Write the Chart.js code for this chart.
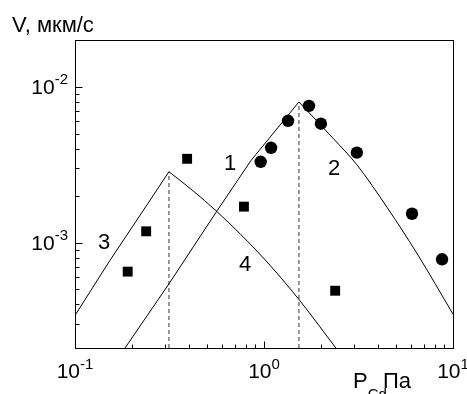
<!DOCTYPE html>
<html>
<head>
<meta charset="utf-8">
<script src="https://cdn.jsdelivr.net/npm/chart.js@4"></script>
<style>
    html, body { margin: 0; padding: 0; background: #fff; }
    #wrap { width: 467px; height: 394px; }
</style>
</head>
<body>
<div id="wrap"><canvas id="chart" width="467" height="394"></canvas></div>
<script>
// measured points (P_Cd in Pa, V in mkm/s)
const circleP = [0.96, 1.09, 1.34, 1.73, 2.0, 3.1, 6.07, 8.75];
const circleV = [0.0033, 0.00406, 0.00605, 0.00755, 0.0058, 0.00378, 0.00153, 0.00078];
const squareP = [0.19, 0.238, 0.392, 0.783, 2.38];
const squareV = [0.00065, 0.00118, 0.00345, 0.0017, 0.00049];

// model curves 1-4
const curve1P = [0.184, 0.318, 0.557, 0.853, 1.53];
const curve1V = [0.00021, 0.000555, 0.00156, 0.00336, 0.0080];
const curve2P = [1.53, 2.32, 3.1, 4.48, 6.45, 10];
const curve2V = [0.0080, 0.00467, 0.00316, 0.00168, 0.00085, 0.000347];
const curve3P = [0.1, 0.153, 0.243, 0.314];
const curve3V = [0.00034, 0.000767, 0.00178, 0.00285];
const curve4P = [0.314, 0.421, 0.557, 0.746, 1.076, 1.55, 2.4];
const curve4V = [0.00285, 0.00215, 0.0016, 0.00114, 0.000714, 0.000422, 0.00021];

// vertical dashed markers at the peaks
const dashP = [0.314, 1.53];
const dashTopV = [0.00285, 0.0080];

// axes
const xMin = 0.1, xMax = 10;
const yMin = 0.00021, yMax = 0.02;
const xMajor = [0.1, 1, 10];
const xExp = ["-1", "0", "1"];
const yMajor = [0.01, 0.001];
const yExp = ["-2", "-3"];

const curveLabels = [
    { text: "1", x: 230, y: 164 },
    { text: "2", x: 334, y: 169 },
    { text: "3", x: 104, y: 243 },
    { text: "4", x: 245, y: 265 }
];

const FONT = '"Liberation Sans", Arial, sans-serif';

function pts(xs, ys) {
    return xs.map((x, i) => ({ x: x, y: ys[i] }));
}

function lineSet(xs, ys, extra) {
    return Object.assign({
        type: "line",
        data: pts(xs, ys),
        borderColor: "#000",
        borderWidth: 1,
        pointRadius: 0,
        tension: 0,
        fill: false
    }, extra || {});
}

const datasets = [
    {
        type: "scatter",
        data: pts(circleP, circleV),
        pointStyle: "circle",
        pointRadius: 6.2,
        backgroundColor: "#000",
        borderColor: "#000",
        borderWidth: 0
    },
    {
        type: "scatter",
        data: pts(squareP, squareV),
        pointStyle: "rect",
        pointRadius: 7,
        backgroundColor: "#000",
        borderColor: "#000",
        borderWidth: 0
    },
    lineSet(curve1P, curve1V),
    lineSet(curve2P, curve2V, { cubicInterpolationMode: "monotone" }),
    lineSet(curve3P, curve3V),
    lineSet(curve4P, curve4V, { cubicInterpolationMode: "monotone" })
];

dashP.forEach((p, i) => {
    datasets.push(lineSet([p, p], [yMin, dashTopV[i]], {
        borderColor: "#7a7a7a",
        borderWidth: 1.5,
        borderDash: [4, 3]
    }));
});

// minor tick values for log axes
function minorTicks(lo, hi) {
    const out = [];
    for (let d = Math.floor(Math.log10(lo)); d <= Math.ceil(Math.log10(hi)); d++) {
        for (let m = 2; m <= 9; m++) {
            const v = m * Math.pow(10, d);
            if (v > lo && v < hi) out.push(v);
        }
    }
    return out;
}

function drawPower(ctx, exp, x, y, align, supRise) {
    ctx.font = "21px " + FONT;
    const w1 = ctx.measureText("10").width;
    ctx.font = "15px " + FONT;
    const w2 = ctx.measureText(exp).width;
    let left = align === "right" ? x - w1 - w2 : x - (w1 + w2) / 2;
    ctx.textAlign = "left";
    ctx.textBaseline = "alphabetic";
    ctx.font = "21px " + FONT;
    ctx.fillText("10", left, y);
    ctx.font = "15px " + FONT;
    ctx.fillText(exp, left + w1, y - supRise);
}

const framePlugin = {
    id: "frame",
    afterDraw(chart) {
        const ctx = chart.ctx;
        const a = chart.chartArea;
        const xs = chart.scales.x, ys = chart.scales.y;
        ctx.save();
        ctx.strokeStyle = "#000";
        ctx.lineWidth = 1;
        ctx.strokeRect(Math.round(a.left) + 0.5, Math.round(a.top) + 0.5,
            Math.round(a.right - a.left), Math.round(a.bottom - a.top));

        // inward ticks
        ctx.beginPath();
        const bottom = Math.round(a.bottom) + 0.5;
        const left = Math.round(a.left) + 0.5;
        xMajor.forEach(v => {
            const px = Math.round(xs.getPixelForValue(v)) + 0.5;
            ctx.moveTo(px, bottom); ctx.lineTo(px, bottom - 7);
        });
        minorTicks(xMin, xMax).forEach(v => {
            const px = Math.round(xs.getPixelForValue(v)) + 0.5;
            ctx.moveTo(px, bottom); ctx.lineTo(px, bottom - 4);
        });
        yMajor.forEach(v => {
            const py = Math.round(ys.getPixelForValue(v)) + 0.5;
            ctx.moveTo(left, py); ctx.lineTo(left + 7, py);
        });
        minorTicks(yMin, yMax).forEach(v => {
            const py = Math.round(ys.getPixelForValue(v)) + 0.5;
            ctx.moveTo(left, py); ctx.lineTo(left + 4, py);
        });
        ctx.stroke();

        // tick labels
        ctx.fillStyle = "#000";
        xMajor.forEach((v, i) => {
            drawPower(ctx, xExp[i], xs.getPixelForValue(v), a.bottom + 30, "center", 9);
        });
        yMajor.forEach((v, i) => {
            drawPower(ctx, yExp[i], a.left - 7, ys.getPixelForValue(v) + 7, "right", 10);
        });

        // axis titles
        ctx.textAlign = "left";
        ctx.font = "22px " + FONT;
        ctx.fillText("V, мкм/с", 12, 32);
        ctx.font = "22px " + FONT;
        ctx.fillText("P", 353, 388);
        const wP = ctx.measureText("P").width;
        ctx.font = "15px " + FONT;
        ctx.fillText("Cd,", 353 + wP, 399);
        ctx.font = "22px " + FONT;
        ctx.fillText("Па", 383, 388);

        // curve numbers
        ctx.textAlign = "center";
        ctx.textBaseline = "middle";
        ctx.font = "22px " + FONT;
        curveLabels.forEach(l => ctx.fillText(l.text, l.x, l.y));
        ctx.restore();
    }
};

new Chart(document.getElementById("chart").getContext("2d"), {
    data: { datasets: datasets },
    options: {
        responsive: false,
        maintainAspectRatio: false,
        animation: false,
        layout: { padding: { left: 75, right: 14, top: 40, bottom: 46 } },
        scales: {
            x: { type: "logarithmic", min: xMin, max: xMax, display: false },
            y: { type: "logarithmic", min: yMin, max: yMax, display: false }
        },
        plugins: {
            legend: { display: false },
            tooltip: { enabled: false }
        }
    },
    plugins: [framePlugin]
});
</script>
</body>
</html>
